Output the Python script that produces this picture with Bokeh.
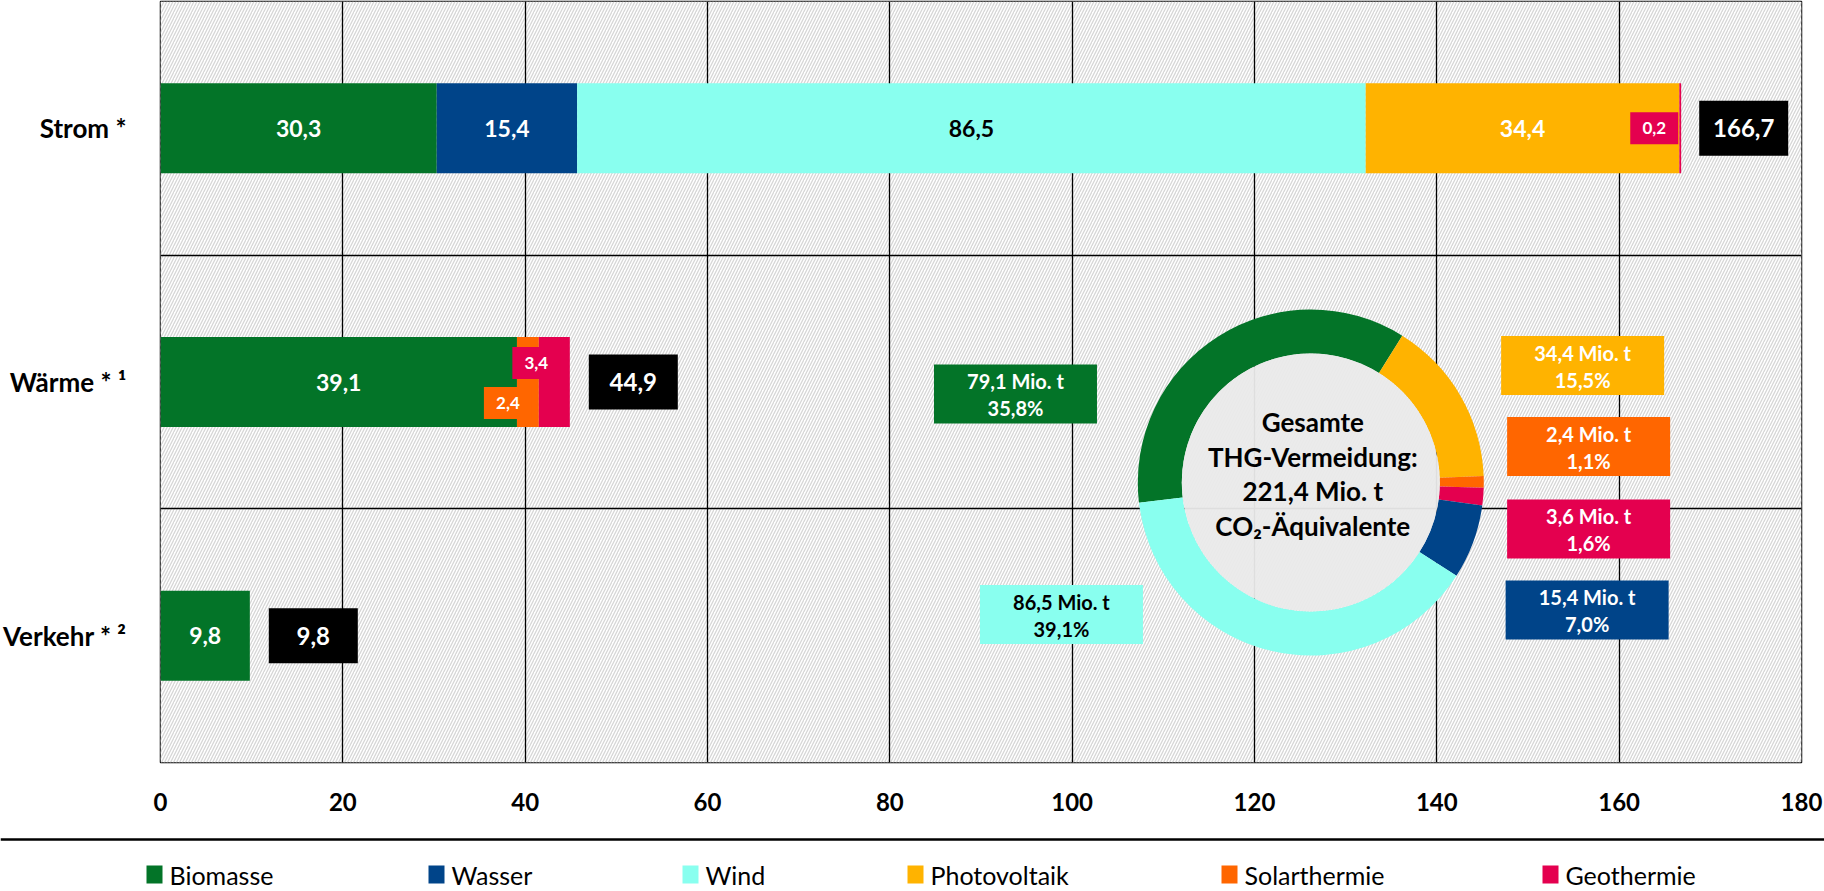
import math
from bokeh.plotting import figure
from bokeh.models import Range1d, FixedTicker, BoxAnnotation, ColumnDataSource
from bokeh.layouts import column
from bokeh.embed import file_html
from bokeh.resources import INLINE
from bokeh.core.properties import value

# ---------------- data ----------------
sectors = ["Strom *", "Wärme * ¹", "Verkehr * ²"]
sources = ["Biomasse", "Wasser", "Wind", "Photovoltaik", "Solarthermie", "Geothermie"]
colors = ["#037428", "#004489", "#89ffef", "#ffb300", "#ff6600", "#e4004f"]
biomasse = [30.3, 39.1, 9.8]
wasser = [15.4, 0.0, 0.0]
wind = [86.5, 0.0, 0.0]
photovoltaik = [34.4, 0.0, 0.0]
solarthermie = [0.0, 2.4, 0.0]
geothermie = [0.2, 3.4, 0.0]
sector_totals = [166.7, 44.9, 9.8]
x_ticks = [0, 20, 40, 60, 80, 100, 120, 140, 160, 180]

donut_sources = ["Biomasse", "Photovoltaik", "Solarthermie", "Geothermie", "Wasser", "Wind"]
donut_values = [79.1, 34.4, 2.4, 3.6, 15.4, 86.5]
donut_shares = ["35,8%", "15,5%", "1,1%", "1,6%", "7,0%", "39,1%"]
donut_title = ["Gesamte", "THG-Vermeidung:", "221,4 Mio. t", "CO₂-Äquivalente"]

# ---------------- layout ----------------
FONT = "Lato"
W, H1, H2 = 1824, 826, 65
FL, FR, FT, FB = 159, 1801, 1, 762
PPX = (FR - FL) / 180.0
PPY = (FB - FT) / 3.0


def X(px):
    return (px - FL) / PPX


def Y(py):
    return 3 - (py - FT) / PPY


def fmt(v):
    return f"{v:.1f}".replace(".", ",")


color_of = dict(zip(sources, colors))
series = dict(zip(sources, [biomasse, wasser, wind, photovoltaik, solarthermie, geothermie]))
y_sector = [2.5, 1.5, 0.5]

p = figure(width=W, height=H1, x_range=Range1d(0, 180), y_range=Range1d(0, 3),
           toolbar_location=None, output_backend="svg",
           min_border_left=FL, min_border_right=W - FR, min_border_top=FT,
           min_border_bottom=H1 - FB)
p.frame_align = False
p.background_fill_color = "white"
p.border_fill_color = "white"
p.outline_line_color = "black"
p.outline_line_width = 1.5

# hatched background
p.add_layout(BoxAnnotation(level="image", fill_color="white", fill_alpha=1.0, line_color=None,
                           hatch_pattern="/", hatch_color="#d6d6d6", hatch_scale=6,
                           hatch_weight=1.3))

p.xgrid.ticker = FixedTicker(ticks=x_ticks[1:-1])
p.xgrid.grid_line_color = "black"
p.xgrid.grid_line_width = 1.3
p.ygrid.ticker = FixedTicker(ticks=[1, 2])
p.ygrid.grid_line_color = "black"
p.ygrid.grid_line_width = 1.3

p.xaxis.ticker = FixedTicker(ticks=x_ticks)
p.xaxis.axis_line_color = None
p.xaxis.major_tick_line_color = None
p.xaxis.minor_tick_line_color = None
p.xaxis.major_label_standoff = 24
p.xaxis.major_label_text_font = FONT
p.xaxis.major_label_text_font_style = "bold"
p.xaxis.major_label_text_font_size = "24px"
p.xaxis.major_label_text_color = "black"

p.yaxis.ticker = FixedTicker(ticks=y_sector)
p.yaxis.major_label_overrides = {y: s for y, s in zip(y_sector, sectors)}
p.yaxis.axis_line_color = None
p.yaxis.major_tick_line_color = None
p.yaxis.minor_tick_line_color = None
p.yaxis.major_label_standoff = 28
p.yaxis.major_label_text_font = FONT
p.yaxis.major_label_text_font_style = "bold"
p.yaxis.major_label_text_font_size = "26px"
p.yaxis.major_label_text_color = "black"

# stacked bars
src = ColumnDataSource(dict(y=y_sector, **series))
p.hbar_stack(sources, y="y", height=0.355, fill_color=colors, line_color=None, source=src)

# segment labels
small_offsets = {("Strom *", "Geothermie"): (-26, 0),
                 ("Wärme * ¹", "Solarthermie"): (-20, 21),
                 ("Wärme * ¹", "Geothermie"): (-18, -19)}
lx, ly, lt, lc = [], [], [], []
bx, by, bt, bc = [], [], [], []
for i, sec in enumerate(sectors):
    left = 0.0
    for s in sources:
        v = series[s][i]
        if v > 0:
            c = left + v / 2
            if v >= 5:
                lx.append(c); ly.append(y_sector[i]); lt.append(fmt(v))
                lc.append("black" if s == "Wind" else "white")
            else:
                dx, dy = small_offsets.get((sec, s), (0, 0))
                bx.append(c + dx / PPX); by.append(y_sector[i] - dy / PPY)
                bt.append(fmt(v)); bc.append(color_of[s])
        left += v

p.text(x=lx, y=ly, text=lt, text_color=lc, text_font=value(FONT), text_font_style="bold",
       text_font_size="23px", text_align="center", text_baseline="middle")
p.rect(x=bx, y=by, width=48, height=32, width_units="screen", height_units="screen",
       fill_color=bc, line_color=None)
p.text(x=bx, y=by, text=bt, text_color="white", text_font=value(FONT), text_font_style="bold",
       text_font_size="17px", text_align="center", text_baseline="middle")

# totals
tx = [t + (19 + 44.5) / PPX for t in sector_totals]
p.rect(x=tx, y=y_sector, width=89, height=55, width_units="screen", height_units="screen",
       fill_color="black", line_color=None)
p.text(x=tx, y=y_sector, text=[fmt(t) for t in sector_totals], text_color="white",
       text_font=value(FONT), text_font_style="bold", text_font_size="24px",
       text_align="center", text_baseline="middle")

# donut
cx, cy = X(1310), Y(482)
tot = sum(donut_values)
start_cw = 263.3
starts, ends = [], []
acc = start_cw
for v in donut_values:
    a0 = acc
    a1 = acc + v / tot * 360.0
    starts.append(math.radians(90 - a0))
    ends.append(math.radians(90 - a1))
    acc = a1
p.annular_wedge(x=cx, y=cy, inner_radius=129, outer_radius=173,
                inner_radius_units="screen", outer_radius_units="screen",
                start_angle=starts, end_angle=ends, direction="clock",
                fill_color=[color_of[s] for s in donut_sources], line_color=None)
p.circle(x=[cx], y=[cy], radius=129, radius_units="screen", fill_color="#eaeaea",
         fill_alpha=0.95, line_color=None)
title_offsets = [-52, -17, 17, 52]
for line, off in zip(donut_title, title_offsets):
    p.text(x=[X(1312)], y=[Y(473.5 + off)], text=[line], text_color="black",
           text_font=value(FONT), text_font_style="bold", text_font_size="26px",
           text_align="center", text_baseline="middle")

# donut labels
label_pos = {"Biomasse": (1014.5, 393.5), "Wind": (1060.5, 614), "Photovoltaik": (1582, 365),
             "Solarthermie": (1588, 446), "Geothermie": (1588, 528.5), "Wasser": (1586.5, 609.5)}
dlx = [X(label_pos[s][0]) for s in donut_sources]
dly = [Y(label_pos[s][1]) for s in donut_sources]
dtc = ["black" if s == "Wind" else "white" for s in donut_sources]
p.rect(x=dlx, y=dly, width=163, height=59, width_units="screen", height_units="screen",
       fill_color=[color_of[s] for s in donut_sources], line_color=None)
p.text(x=dlx, y=dly, text=[fmt(v) + " Mio. t" for v in donut_values], text_color=dtc,
       y_offset=-13, text_font=value(FONT), text_font_style="bold", text_font_size="20px",
       text_align="center", text_baseline="middle")
p.text(x=dlx, y=dly, text=donut_shares, text_color=dtc,
       y_offset=14, text_font=value(FONT), text_font_style="bold", text_font_size="20px",
       text_align="center", text_baseline="middle")

# ---------------- legend strip ----------------
p2 = figure(width=W, height=H2, x_range=Range1d(0, W), y_range=Range1d(H2, 0),
            toolbar_location=None, output_backend="svg", min_border=0,
            x_axis_location=None, y_axis_location=None)
p2.frame_align = False
p2.grid.visible = False
p2.outline_line_color = None
p2.background_fill_color = "white"
p2.border_fill_color = "white"
p2.segment(x0=[0], y0=[13], x1=[W], y1=[13], line_width=2.5, line_color="black")
legend_x = [146, 428, 682, 907, 1221, 1542]
p2.rect(x=[lx_ + 8 for lx_ in legend_x], y=[48] * 6, width=16, height=18,
        fill_color=colors, line_color=None)
p2.text(x=[lx_ + 23 for lx_ in legend_x], y=[48] * 6, text=sources, text_color="black",
        text_font=value(FONT), text_font_size="25px", text_align="left",
        text_baseline="middle")

layout = column(p, p2, spacing=0)
html = file_html(layout, INLINE, "THG-Vermeidung")
html = html.replace("<head>", "<head><style>html,body{margin:0;padding:0;overflow:hidden;}</style>", 1)
open("out.html", "w").write(html)
